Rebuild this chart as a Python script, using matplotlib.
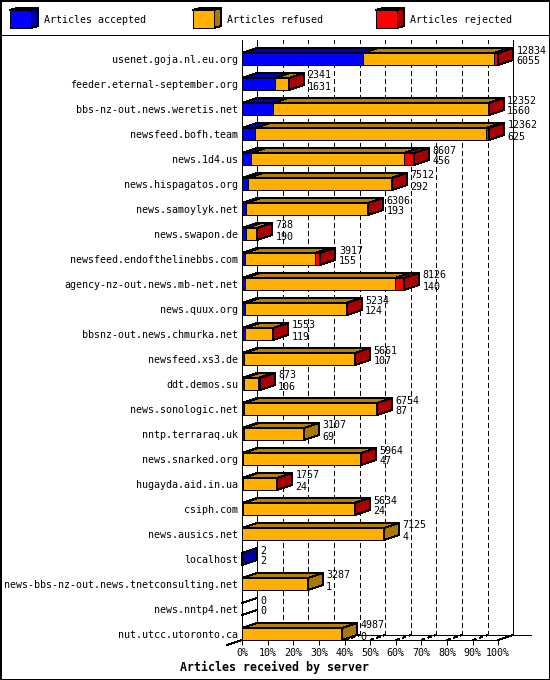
import matplotlib
matplotlib.use('Agg')
import matplotlib.pyplot as plt
from matplotlib.patches import Polygon, Rectangle

# data
servers = ['usenet.goja.nl.eu.org', 'feeder.eternal-september.org', 'bbs-nz-out.news.weretis.net',
           'newsfeed.bofh.team', 'news.1d4.us', 'news.hispagatos.org', 'news.samoylyk.net',
           'news.swapon.de', 'newsfeed.endofthelinebbs.com', 'agency-nz-out.news.mb-net.net',
           'news.quux.org', 'bbsnz-out.news.chmurka.net', 'newsfeed.xs3.de', 'ddt.demos.su',
           'news.sonologic.net', 'nntp.terraraq.uk', 'news.snarked.org', 'hugayda.aid.in.ua',
           'csiph.com', 'news.ausics.net', 'localhost', 'news-bbs-nz-out.news.tnetconsulting.net',
           'news.nntp4.net', 'nut.utcc.utoronto.ca']
total = [12834, 2341, 12352, 12362, 8607, 7512, 6306, 738, 3917, 8126, 5234, 1553, 5661, 873,
         6754, 3107, 5964, 1757, 5634, 7125, 2, 3287, 0, 4987]
accepted = [6055, 1631, 1560, 625, 456, 292, 193, 190, 155, 140, 124, 119, 107, 106,
            87, 69, 47, 24, 24, 4, 2, 1, 0, 0]
# no number printed for these, estimated from the width of the red part
rejected = [200, 10, 50, 150, 500, 30, 15, 15, 250, 470, 15, 15, 15, 70,
            15, 0, 15, 20, 20, 0, 0, 0, 0, 0]
legend_labels = ['Articles accepted', 'Articles refused', 'Articles rejected']
tick_pct = [0, 10, 20, 30, 40, 50, 60, 70, 80, 90, 100]

FRONT = ['#0000ff', '#ffb000', '#ff0000']
TOP = ['#0000bb', '#b88000', '#bb0000']
SIDE = ['#0000aa', '#aa7700', '#aa0000']

PX = 0.72  # one pixel in points at dpi 100
plt.rcParams['font.family'] = 'DejaVu Sans Mono'
plt.rcParams['font.size'] = 7.2
plt.rcParams['lines.antialiased'] = False
plt.rcParams['patch.antialiased'] = False

fig = plt.figure(figsize=(5.5, 6.8), dpi=100)

# pixel axes for the frame and the legend
top = fig.add_axes([0, 0, 1, 1])
top.set_xlim(0, 550)
top.set_ylim(680, 0)
top.axis('off')
top.add_patch(Rectangle((0.5, 0.5), 549, 679, fc='white', ec='black', lw=1.5 * PX))
top.plot([0, 550], [35, 35], color='black', lw=PX)

for lx, label, f, t, s in zip([10, 193, 376], legend_labels, FRONT, TOP, SIDE):
    top.add_patch(Polygon([(lx, 10), (lx + 7, 8), (lx + 28, 8), (lx + 21, 10)], fc=t, ec='black', lw=PX))
    top.add_patch(Polygon([(lx + 21, 10), (lx + 28, 8), (lx + 28, 26), (lx + 21, 28)], fc=s, ec='black', lw=PX))
    top.add_patch(Rectangle((lx, 10), 21, 18, fc=f, ec='black', lw=PX))
    top.text(lx + 34, 20, label, va='center', ha='left')

fig.text(0.5, 1 - 667 / 680, 'Articles received by server', ha='center', va='center',
         fontweight='bold', fontsize=8.4)

# main axes: x in percent of the biggest server, y in rows
ax = fig.add_axes([242.2 / 550, 1 - 640 / 680, 256 / 550, 600 / 680])
ax.patch.set_alpha(0)
floor = 23.24
ax.set_xlim(0, 100)
ax.set_ylim(floor, -0.76)
dx = 15 / 2.56  # depth of the 3d effect
dy = -5 / 25
half = 6 / 25
scale = 100 / max(total)

for s in ['top', 'right']:
    ax.spines[s].set_visible(False)
for s in ['left', 'bottom']:
    ax.spines[s].set_linewidth(PX)

ax.set_yticks(range(len(servers)))
ax.set_yticklabels(servers)
ax.tick_params(axis='y', length=0, pad=3)
ax.set_xticks(tick_pct)
ax.set_xticklabels(['%d%%' % p for p in tick_pct])
ax.tick_params(axis='x', length=5 * PX, width=PX, pad=2.5)

# back wall and floor
for p in tick_pct:
    if p in (0, 100):
        ax.plot([p + dx, p + dx], [floor + dy, -0.76], color='black', lw=PX, clip_on=False, zorder=1)
    else:
        ax.plot([p + dx, p + dx], [floor + dy, -0.76], color='black', lw=PX, ls=(0, (5, 4)),
                dash_capstyle='butt', clip_on=False, zorder=1)
        ax.plot([p, p + dx], [floor, floor + dy], color='black', lw=PX, ls=(0, (3, 3)),
                dash_capstyle='butt', clip_on=False, zorder=1)
ax.plot([dx, 113], [floor + dy, floor + dy], color='black', lw=PX, clip_on=False, zorder=1)
ax.plot([100, 100 + dx], [floor, floor + dy], color='black', lw=PX, clip_on=False, zorder=1)
ax.plot([-dx, 0], [floor - dy, floor], color='black', lw=PX, clip_on=False, zorder=1)

# bars
for row in range(len(servers)):
    refused = total[row] - accepted[row] - rejected[row]
    y0 = row - half
    y1 = row + half
    left = 0
    last = None
    for i, val in enumerate([accepted[row], refused, rejected[row]]):
        if val <= 0:
            continue
        w = val * scale
        ax.add_patch(Polygon([(left, y0), (left + dx, y0 + dy), (left + w + dx, y0 + dy), (left + w, y0)],
                             fc=TOP[i], ec='black', lw=PX, clip_on=False, zorder=3))
        ax.add_patch(Rectangle((left, y0), w, y1 - y0, fc=FRONT[i], ec='black', lw=PX, clip_on=False, zorder=3))
        left += w
        last = i
    if last is None:
        # nothing at all on this row, only the two edges are left
        ax.plot([0, dx], [y0, y0 + dy], color='black', lw=PX, zorder=3, clip_on=False)
        ax.plot([0, dx], [y1, y1 + dy], color='black', lw=PX, zorder=3, clip_on=False)
    else:
        ax.add_patch(Polygon([(left, y0), (left + dx, y0 + dy), (left + dx, y1 + dy), (left, y1)],
                             fc=SIDE[last], ec='black', lw=PX, clip_on=False, zorder=3))
    ax.annotate(str(total[row]), (left + dx, row), xytext=(3.5 * PX, 8.5 * PX), textcoords='offset points',
                va='center', ha='left', zorder=5, annotation_clip=False)
    ax.annotate(str(accepted[row]), (left + dx, row), xytext=(3.5 * PX, -2.5 * PX), textcoords='offset points',
                va='center', ha='left', zorder=5, annotation_clip=False)

plt.savefig('out.png', dpi=100)
